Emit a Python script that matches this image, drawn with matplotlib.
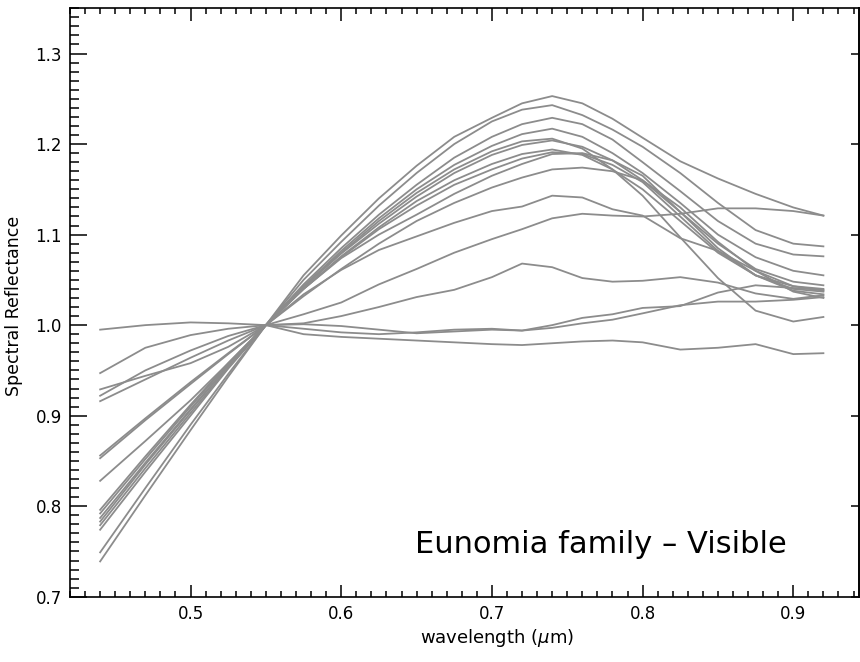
import matplotlib
matplotlib.use("Agg")
import matplotlib.pyplot as plt
from matplotlib.ticker import MultipleLocator

# wavelength grid (micron)
wl = [0.44, 0.47, 0.50, 0.525, 0.55, 0.575, 0.60, 0.625, 0.65, 0.675,
      0.70, 0.72, 0.74, 0.76, 0.78, 0.80, 0.825, 0.85, 0.875, 0.90, 0.92]

# normalised reflectance spectra (1.0 at 0.55 um)
s01 = [0.739, 0.812, 0.884, 0.943, 1.0, 1.055, 1.099, 1.140, 1.176, 1.208,
       1.229, 1.245, 1.253, 1.245, 1.228, 1.207, 1.181, 1.162, 1.145, 1.130, 1.121]
s02 = [0.749, 0.820, 0.890, 0.946, 1.0, 1.050, 1.092, 1.132, 1.168, 1.200,
       1.225, 1.238, 1.243, 1.232, 1.216, 1.197, 1.168, 1.135, 1.105, 1.090, 1.087]
s03 = [0.774, 0.838, 0.900, 0.952, 1.0, 1.045, 1.085, 1.122, 1.155, 1.185,
       1.208, 1.222, 1.229, 1.222, 1.205, 1.180, 1.148, 1.115, 1.090, 1.078, 1.076]
s04 = [0.779, 0.842, 0.903, 0.953, 1.0, 1.043, 1.082, 1.118, 1.150, 1.177,
       1.198, 1.211, 1.217, 1.208, 1.190, 1.168, 1.135, 1.100, 1.075, 1.060, 1.055]
s05 = [0.787, 0.848, 0.907, 0.955, 1.0, 1.042, 1.080, 1.115, 1.146, 1.172,
       1.192, 1.203, 1.206, 1.195, 1.172, 1.143, 1.097, 1.052, 1.016, 1.004, 1.009]
s06 = [0.792, 0.852, 0.910, 0.957, 1.0, 1.042, 1.079, 1.112, 1.142, 1.168,
       1.188, 1.199, 1.204, 1.197, 1.182, 1.160, 1.125, 1.090, 1.062, 1.048, 1.044]
s07 = [0.796, 0.855, 0.912, 0.958, 1.0, 1.040, 1.076, 1.108, 1.137, 1.160,
       1.178, 1.189, 1.194, 1.188, 1.172, 1.150, 1.115, 1.080, 1.055, 1.043, 1.040]
s08 = [0.783, 0.846, 0.906, 0.955, 1.0, 1.040, 1.075, 1.106, 1.132, 1.155,
       1.172, 1.184, 1.191, 1.189, 1.177, 1.158, 1.120, 1.082, 1.055, 1.040, 1.037]
s09 = [0.828, 0.872, 0.917, 0.958, 1.0, 1.040, 1.074, 1.100, 1.122, 1.145,
       1.165, 1.178, 1.189, 1.190, 1.182, 1.165, 1.125, 1.085, 1.055, 1.038, 1.034]
s10 = [0.853, 0.895, 0.935, 0.968, 1.0, 1.032, 1.062, 1.090, 1.115, 1.135,
       1.152, 1.163, 1.172, 1.174, 1.170, 1.160, 1.130, 1.092, 1.060, 1.037, 1.030]
s11 = [0.856, 0.897, 0.937, 0.969, 1.0, 1.034, 1.061, 1.083, 1.098, 1.113,
       1.126, 1.131, 1.143, 1.141, 1.128, 1.121, 1.096, 1.082, 1.060, 1.043, 1.038]
s12 = [0.916, 0.940, 0.964, 0.983, 1.0, 1.012, 1.025, 1.045, 1.062, 1.080,
       1.095, 1.106, 1.118, 1.123, 1.121, 1.120, 1.123, 1.129, 1.129, 1.126, 1.121]
s13 = [0.922, 0.950, 0.972, 0.988, 1.0, 1.002, 1.010, 1.020, 1.031, 1.039,
       1.053, 1.068, 1.064, 1.052, 1.048, 1.049, 1.053, 1.047, 1.035, 1.029, 1.033]
s14 = [0.947, 0.975, 0.989, 0.996, 1.0, 1.001, 0.999, 0.995, 0.991, 0.993,
       0.995, 0.994, 1.000, 1.008, 1.012, 1.019, 1.021, 1.036, 1.044, 1.041, 1.039]
s15 = [0.929, 0.944, 0.958, 0.976, 1.0, 0.996, 0.992, 0.990, 0.992, 0.995,
       0.996, 0.994, 0.997, 1.002, 1.006, 1.013, 1.022, 1.026, 1.026, 1.028, 1.031]
s16 = [0.995, 1.000, 1.003, 1.002, 1.0, 0.990, 0.987, 0.985, 0.983, 0.981,
       0.979, 0.978, 0.980, 0.982, 0.983, 0.981, 0.973, 0.975, 0.979, 0.968, 0.969]

spectra = [s01, s02, s03, s04, s05, s06, s07, s08,
           s09, s10, s11, s12, s13, s14, s15, s16]

fig = plt.figure(figsize=(8.6, 6.62), dpi=100)
ax = fig.add_axes([0.0814, 0.0986, 0.9174, 0.8889])

for s in spectra:
    ax.plot(wl, s, color='#8c8c8c', lw=1.3)

ax.set_xlim(0.42, 0.9436)
ax.set_ylim(0.7, 1.35)

ax.xaxis.set_major_locator(MultipleLocator(0.1))
ax.xaxis.set_minor_locator(MultipleLocator(0.01))
ax.yaxis.set_major_locator(MultipleLocator(0.1))
ax.yaxis.set_minor_locator(MultipleLocator(0.01))
ax.xaxis.set_major_formatter(plt.FuncFormatter(lambda v, p: '%.1f' % v))
ax.yaxis.set_major_formatter(plt.FuncFormatter(lambda v, p: '%.1f' % v))

ax.tick_params(axis='x', which='major', direction='in', top=True, length=9, width=1.1,
               labelsize=12, pad=6)
ax.tick_params(axis='x', which='minor', direction='in', top=True, length=4.5, width=1.1)
ax.tick_params(axis='y', which='major', direction='in', right=False, length=12, width=1.1,
               labelsize=12, pad=6)
ax.tick_params(axis='y', which='minor', direction='in', right=False, length=6.5, width=1.1)

# right side: major ticks only, shorter
sec = ax.secondary_yaxis('right')
sec.yaxis.set_major_locator(MultipleLocator(0.1))
sec.tick_params(direction='in', length=6, width=1.1, labelright=False)
sec.spines['right'].set_linewidth(1.2)

for sp in ax.spines.values():
    sp.set_linewidth(1.2)

ax.set_xlabel(r'wavelength ($\mu$m)', fontsize=13)
ax.xaxis.set_label_coords(0.541, -0.052)
ax.set_ylabel('Spectral Reflectance', fontsize=12.5)
ax.yaxis.set_label_coords(-0.06, 0.494)

ax.text(0.649, 0.748, 'Eunomia family \u2013 Visible', fontsize=22,
        ha='left', va='baseline')

fig.savefig('out.png', dpi=100)
